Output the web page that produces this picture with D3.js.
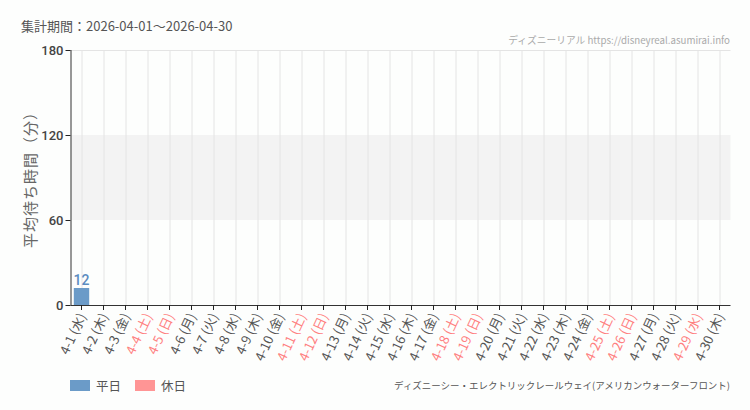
<!DOCTYPE html>
<html>
<head>
<meta charset="utf-8">
<script src="https://cdn.jsdelivr.net/npm/d3@7"></script>
<style>
  body { margin: 0; background: #fdfefd; }
  svg { display: block; font-family: "Noto Sans CJK JP", "Noto Sans", sans-serif; }
</style>
</head>
<body>
<svg width="750" height="410"></svg>
<script>
// Data
let days = ['4-1', '4-2', '4-3', '4-4', '4-5', '4-6', '4-7', '4-8', '4-9', '4-10',
  '4-11', '4-12', '4-13', '4-14', '4-15', '4-16', '4-17', '4-18', '4-19', '4-20',
  '4-21', '4-22', '4-23', '4-24', '4-25', '4-26', '4-27', '4-28', '4-29', '4-30']
let weekdays = ['水', '木', '金', '土', '日', '月', '火', '水', '木', '金',
  '土', '日', '月', '火', '水', '木', '金', '土', '日', '月',
  '火', '水', '木', '金', '土', '日', '月', '火', '水', '木']
let holidays = ['4-4', '4-5', '4-11', '4-12', '4-18', '4-19', '4-25', '4-26', '4-29']
let waitValues = [12, null, null, null, null, null, null, null, null, null,
  null, null, null, null, null, null, null, null, null, null,
  null, null, null, null, null, null, null, null, null, null]
let yTicks = [0, 60, 120, 180]

let data = days.map((d, i) => ({
  day: d,
  label: `${d} (${weekdays[i]})`,
  holiday: holidays.includes(d),
  value: waitValues[i]
}))

let margin = { left: 70.5, right: 20, top: 50, bottom: 105 }
let w = 660
let h = 255

let svg = d3.select('svg')
let g = svg.append('g').attr('transform', `translate(${margin.left},${margin.top})`)

let xScale = d3.scaleBand()
  .domain(days)
  .range([0, w])
  .paddingInner(0.3)
  .paddingOuter(0.15)

let xCenter = d => xScale(d) + xScale.bandwidth() / 2

let yScale = d3.scaleLinear()
  .domain([0, 180])
  .range([h, 0])

// Shaded band between 60 and 120
g.append('rect')
  .attr('x', 0)
  .attr('y', yScale(120))
  .attr('width', w)
  .attr('height', yScale(60) - yScale(120))
  .style('fill', '#f3f3f3')

// Top grid line
g.append('line')
  .attr('x1', 0).attr('x2', w)
  .attr('y1', yScale(180) + 0.5).attr('y2', yScale(180) + 0.5)
  .style('stroke', '#e4e4e4')

// Vertical grid lines
g.selectAll('.vgrid')
  .data(days)
  .enter()
  .append('line')
  .attr('class', 'vgrid')
  .attr('x1', d => Math.round(xCenter(d)) + 0.5)
  .attr('x2', d => Math.round(xCenter(d)) + 0.5)
  .attr('y1', 0)
  .attr('y2', h)
  .style('stroke', '#e4e4e4')

// Bars
let barData = data.filter(d => d.value != null)
g.selectAll('.bar')
  .data(barData)
  .enter()
  .append('rect')
  .attr('class', 'bar')
  .attr('x', d => xScale(d.day))
  .attr('y', d => yScale(d.value))
  .attr('width', xScale.bandwidth())
  .attr('height', d => h - yScale(d.value))
  .style('fill', d => d.holiday ? '#ff9595' : '#6b9bc8')

// Bar value labels
g.selectAll('.barLabel')
  .data(barData)
  .enter()
  .append('text')
  .attr('class', 'barLabel')
  .text(d => d.value)
  .attr('x', d => xCenter(d.day))
  .attr('y', d => yScale(d.value) - 3)
  .attr('text-anchor', 'middle')
  .style('font-size', '14px')
  .style('font-family', '"Roboto", sans-serif')
  .style('font-weight', '500')
  .style('fill', '#5b8cc0')

// X axis
let xAxis = d3.axisBottom(xScale).tickSize(5).tickFormat('')
let xg = g.append('g')
  .attr('transform', `translate(0,${h})`)
  .call(xAxis)
xg.select('.domain').style('stroke', '#333').attr('d', `M0,0.5H${w}`)
xg.selectAll('.tick line').style('stroke', '#222')

g.selectAll('.xLabel')
  .data(data)
  .enter()
  .append('text')
  .attr('class', 'xLabel')
  .text(d => d.label)
  .attr('transform', d => `translate(${xCenter(d.day) + 5},${h + 11}) rotate(-65)`)
  .attr('text-anchor', 'end')
  .style('font-size', '13px')
  .style('fill', d => d.holiday ? '#ff8080' : '#555')

// Y axis
let yAxis = d3.axisLeft(yScale).tickValues(yTicks).tickSize(5).tickPadding(2)
let yg = g.append('g').call(yAxis)
yg.select('.domain').style('stroke', '#333').attr('d', `M0.5,0V${h}`)
yg.selectAll('.tick line').style('stroke', '#222')
yg.selectAll('.tick text')
  .style('font-size', '13px')
  .style('font-family', 'Roboto, sans-serif')
  .style('font-weight', '500')
  .style('fill', '#444')

// Y axis title
svg.append('text')
  .text('平均待ち時間（分）')
  .attr('transform', 'translate(36,176) rotate(-90)')
  .attr('text-anchor', 'middle')
  .style('font-size', '15px')
  .style('letter-spacing', '1px')
  .style('fill', '#666')

// Period title
svg.append('text')
  .text('集計期間：2026-04-01～2026-04-30')
  .attr('x', 21)
  .attr('y', 31)
  .style('font-size', '13px')
  .style('fill', '#555')

// Shrink a right-aligned text's font until it fits the given width
function fitText(sel, maxWidth, size) {
  sel.style('font-size', size + 'px')
  let len = sel.node().getComputedTextLength()
  if (len > maxWidth) {
    sel.style('font-size', (size * maxWidth / len).toFixed(2) + 'px')
  }
}

// Site watermark
let site = svg.append('text')
  .text('ディズニーリアル https://disneyreal.asumirai.info')
  .attr('x', 730)
  .attr('y', 44)
  .attr('text-anchor', 'end')
  .style('fill', '#aaa')
fitText(site, 222, 13)

// Attraction name
let attraction = svg.append('text')
  .text('ディズニーシー・エレクトリックレールウェイ(アメリカンウォーターフロント)')
  .attr('x', 730)
  .attr('y', 389)
  .attr('text-anchor', 'end')
  .style('fill', '#555')
fitText(attraction, 336, 13)

// Legend
let legendData = [
  { color: '#6b9bc8', text: '平日' },
  { color: '#ff9595', text: '休日' }
]

let legend = svg.append('g')
  .attr('id', 'legend')
  .attr('transform', 'translate(70,380)')

legend.selectAll('rect')
  .data(legendData)
  .enter()
  .append('rect')
  .attr('x', (d, i) => i * 65)
  .attr('y', 0)
  .attr('width', 20)
  .attr('height', 11)
  .style('fill', d => d.color)

legend.selectAll('text')
  .data(legendData)
  .enter()
  .append('text')
  .text(d => d.text)
  .attr('x', (d, i) => i * 65 + 26)
  .attr('y', 11)
  .style('font-size', '12.5px')
  .style('fill', '#555')
</script>
</body>
</html>
